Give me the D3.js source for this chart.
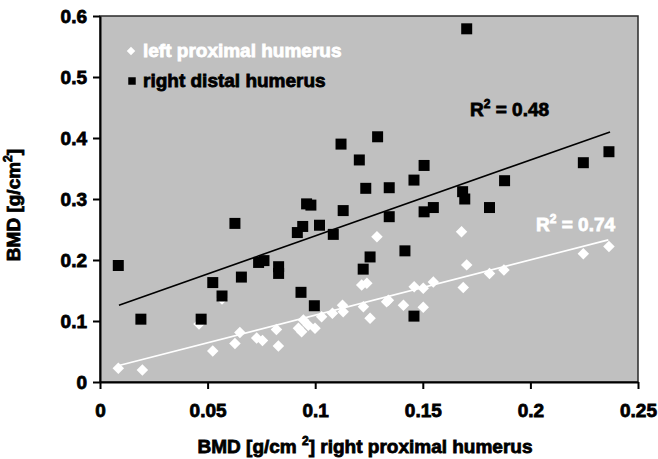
<!DOCTYPE html>
<html><head><meta charset="utf-8">
<script src="https://cdn.jsdelivr.net/npm/d3@7"></script>
<style>
body{margin:0;background:#fff}
svg{display:block}
text{font-family:"Liberation Sans",Arial,sans-serif;font-weight:bold}
</style>
</head><body>
<svg id="chart" width="658" height="459"></svg>
<script>
// ---- data ----
const xTicks = [0, 0.05, 0.1, 0.15, 0.2, 0.25];
const xTickLabels = ["0", "0.05", "0.1", "0.15", "0.2", "0.25"];
const yTicks = [0, 0.1, 0.2, 0.3, 0.4, 0.5, 0.6];
const yTickLabels = ["0", "0.1", "0.2", "0.3", "0.4", "0.5", "0.6"];
const seriesNames = ["left proximal humerus", "right distal humerus"];

// left proximal humerus (white diamonds)
const leftProxX = [0.0085, 0.0197, 0.046, 0.0524, 0.065, 0.0627, 0.0728, 0.0755, 0.0829, 0.082,
  0.0922, 0.0945, 0.0968, 0.0999, 0.0937, 0.103, 0.108, 0.1127, 0.113, 0.1224,
  0.1255, 0.1216, 0.124, 0.1332, 0.1287, 0.168, 0.1704, 0.181, 0.1877, 0.1688,
  0.1549, 0.1502, 0.146, 0.134, 0.141, 0.1502, 0.2246, 0.2365, 0.0567];
const leftProxY = [0.0224, 0.0197, 0.095, 0.051, 0.081, 0.063, 0.072, 0.068, 0.059, 0.086,
  0.088, 0.1016, 0.093, 0.088, 0.0825, 0.107, 0.1126, 0.126, 0.115, 0.1235,
  0.1044, 0.159, 0.162, 0.1316, 0.238, 0.2464, 0.192, 0.178, 0.1836, 0.155,
  0.164, 0.1536, 0.156, 0.134, 0.126, 0.1225, 0.2103, 0.222, 0.136];

// right distal humerus (black squares)
const rightDistX = [0.0085, 0.019, 0.047, 0.0524, 0.0567, 0.0627, 0.0657, 0.0737, 0.0762, 0.083,
  0.083, 0.0934, 0.0996, 0.0917, 0.0942, 0.096, 0.098, 0.102, 0.1084, 0.112,
  0.113, 0.1205, 0.1235, 0.129, 0.1344, 0.1344, 0.1255, 0.1223, 0.1417, 0.1459,
  0.1459, 0.1506, 0.1506, 0.1549, 0.1704, 0.1685, 0.1695, 0.181, 0.188, 0.2246, 0.2365];
const rightDistY = [0.191, 0.103, 0.103, 0.163, 0.141, 0.260, 0.172, 0.196, 0.199, 0.189,
  0.178, 0.147, 0.125, 0.245, 0.255, 0.292, 0.290, 0.257, 0.242, 0.390,
  0.281, 0.364, 0.3175, 0.402, 0.3185, 0.271, 0.205, 0.185, 0.215, 0.108,
  0.331, 0.355, 0.279, 0.286, 0.579, 0.312, 0.300, 0.286, 0.330, 0.3595, 0.3775];

// linear trend lines (end points as drawn)
const trendLeftX = [0.0088, 0.2362];
const trendLeftY = [0.027, 0.233];
const trendRightX = [0.0088, 0.237];
const trendRightY = [0.126, 0.410];
const r2Values = ["0.74", "0.48"];

// ---- chart ----
const svg = d3.select("#chart");
const x = d3.scaleLinear().domain([0, 0.25]).range([100, 638]);
const y = d3.scaleLinear().domain([0, 0.6]).range([382, 16]);
const FS = 19;
const SW = 0.8;

svg.append("rect")
  .attr("x", x(0)).attr("y", y(0.6))
  .attr("width", x(0.25) - x(0)).attr("height", y(0) - y(0.6))
  .attr("fill", "#c0c0c0").attr("stroke", "#2a2a2a").attr("stroke-width", 1.5);

const gx = svg.append("g").attr("transform", `translate(0,${y(0)})`)
  .call(d3.axisBottom(x).tickValues(xTicks).tickFormat((d, i) => xTickLabels[i])
    .tickSize(7).tickSizeOuter(0).tickPadding(15));
const gy = svg.append("g").attr("transform", `translate(${x(0)},0)`)
  .call(d3.axisLeft(y).tickValues(yTicks).tickFormat((d, i) => yTickLabels[i])
    .tickSize(7).tickSizeOuter(0).tickPadding(6));
[gx, gy].forEach(g => {
  g.attr("font-family", null).attr("font-size", null);
  g.select(".domain").attr("stroke", "#000").attr("stroke-width", 2);
  g.selectAll(".tick line").attr("stroke", "#000").attr("stroke-width", 2);
  g.selectAll(".tick text").attr("fill", "#000").attr("font-size", FS)
    .attr("stroke", "#000").attr("stroke-width", SW);
});

// points
const leftData = leftProxX.map((v, i) => ({x: v, y: leftProxY[i]}));
const rightData = rightDistX.map((v, i) => ({x: v, y: rightDistY[i]}));
const diamond = d3.symbol(d3.symbolSquare, 66);
const square = d3.symbol(d3.symbolSquare, 121);

svg.append("g").selectAll("path").data(leftData).join("path")
  .attr("d", diamond)
  .attr("transform", d => `translate(${x(d.x)},${y(d.y)}) rotate(45)`)
  .attr("fill", "#fff");

svg.append("g").selectAll("path").data(rightData).join("path")
  .attr("d", square)
  .attr("transform", d => `translate(${x(d.x)},${y(d.y)})`)
  .attr("fill", "#000");

// trend lines
const line = d3.line().x(d => x(d[0])).y(d => y(d[1]));
svg.append("path").datum(trendRightX.map((v, i) => [v, trendRightY[i]]))
  .attr("d", line).attr("stroke", "#000").attr("stroke-width", 1.6).attr("fill", "none");
svg.append("path").datum(trendLeftX.map((v, i) => [v, trendLeftY[i]]))
  .attr("d", line).attr("stroke", "#fff").attr("stroke-width", 1.6).attr("fill", "none");

// R² labels
function r2(xp, yp, val, col) {
  const t = svg.append("text").attr("x", xp).attr("y", yp).attr("font-size", FS)
    .attr("fill", col).attr("stroke", col).attr("stroke-width", SW);
  t.append("tspan").text("R");
  t.append("tspan").attr("font-size", 12).attr("dy", -8).text("2");
  t.append("tspan").attr("dy", 8).text(" = " + val);
}
r2(470, 116, r2Values[1], "#000");
r2(536, 231, r2Values[0], "#fff");

// legend
svg.append("path").attr("d", d3.symbol(d3.symbolSquare, 36))
  .attr("transform", "translate(131,51) rotate(45)").attr("fill", "#fff");
svg.append("text").attr("x", 143).attr("y", 57).attr("font-size", FS)
  .attr("fill", "#fff").attr("stroke", "#fff").attr("stroke-width", SW).text(seriesNames[0]);
svg.append("path").attr("d", d3.symbol(d3.symbolSquare, 56))
  .attr("transform", "translate(132,81)").attr("fill", "#000");
svg.append("text").attr("x", 143).attr("y", 87).attr("font-size", FS)
  .attr("fill", "#000").attr("stroke", "#000").attr("stroke-width", SW).text(seriesNames[1]);

// axis titles
const xt = svg.append("text").attr("x", 365).attr("y", 453).attr("text-anchor", "middle")
  .attr("font-size", FS).attr("fill", "#000").attr("stroke", "#000").attr("stroke-width", SW);
xt.append("tspan").text("BMD [g/cm ");
xt.append("tspan").attr("font-size", 12).attr("dy", -8).text("2");
xt.append("tspan").attr("dy", 8).text("] right proximal humerus");

const yt = svg.append("text").attr("transform", "translate(20,205) rotate(-90)")
  .attr("text-anchor", "middle").attr("font-size", FS).attr("fill", "#000")
  .attr("stroke", "#000").attr("stroke-width", SW);
yt.append("tspan").text("BMD [g/cm");
yt.append("tspan").attr("font-size", 12).attr("dy", -8).text("2");
yt.append("tspan").attr("dy", 8).text("]");
</script>
</body></html>
